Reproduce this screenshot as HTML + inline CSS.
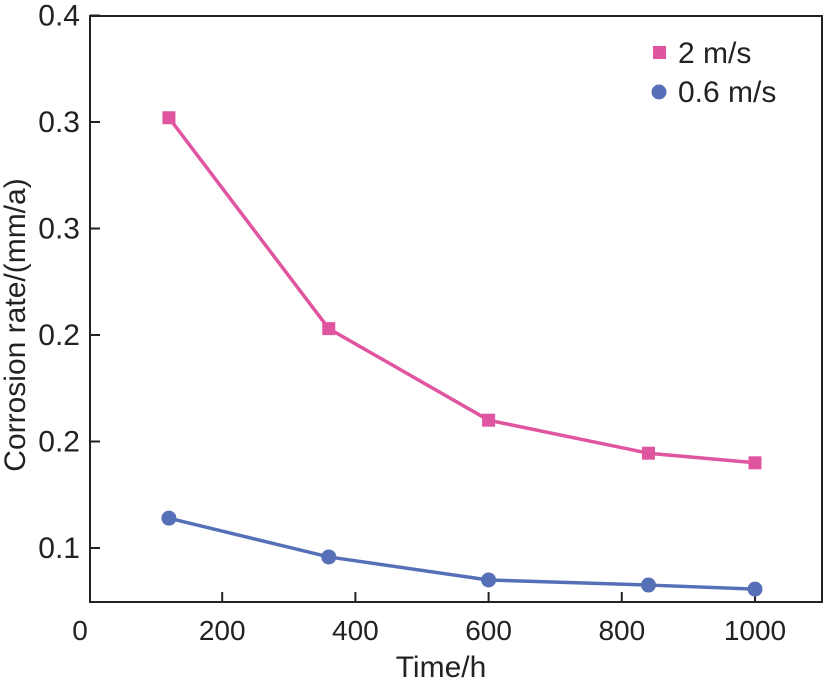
<!DOCTYPE html><html><head><meta charset="utf-8"><style>body{margin:0;background:#fff}svg{font-family:"Liberation Sans",sans-serif}</style></head><body>
<svg id="c" width="828" height="682"></svg>
<script>
const xTicks=[200,400,600,800,1000];
const yTicks=[0.1,0.15,0.2,0.25,0.3,0.35];
const yTickLabels=["0.1","0.2","0.2","0.3","0.3","0.4"];
const times=[120,360,600,840,1000];
const fast=[0.302,0.203,0.160,0.1445,0.140];
const slow=[0.114,0.0958,0.085,0.0826,0.0807];
const L=90,R=822,T=16,B=602;
const X=v=>89+v*0.666;
const Y=v=>548-(v-0.1)*2130;
const s=document.getElementById('c'),NS='http://www.w3.org/2000/svg';
function mk(t,a,p){const e=document.createElementNS(NS,t);for(const k in a)e.setAttribute(k,a[k]);(p||s).appendChild(e);return e;}
let e=mk('rect',{x:L,y:T,width:R-L,height:B-T,fill:'none',stroke:'#222','stroke-width':2});

let t=mk('text',{x:80,y:640,'font-size':28,'text-anchor':'middle',fill:'#222'});t.textContent='0';

xTicks.forEach(v=>{mk('line',{x1:X(v),x2:X(v),y1:B,y2:B-10,stroke:'#222','stroke-width':2});
let t=mk('text',{x:X(v),y:640,'font-size':28,'text-anchor':'middle',fill:'#222'});t.textContent=v;
});
yTicks.forEach((v,i)=>{mk('line',{x1:L,x2:L+10,y1:Y(v),y2:Y(v),stroke:'#222','stroke-width':2});
let t=mk('text',{x:80,y:Y(v)+10,'font-size':30,'text-anchor':'end',fill:'#222'});t.textContent=yTickLabels[i];
});
t=mk('text',{x:441,y:677,'font-size':30,'text-anchor':'middle',fill:'#222'});t.textContent='Time/h';

t=mk('text',{x:0,y:0,'font-size':30,'text-anchor':'middle',fill:'#222',transform:'translate(25,325) rotate(-90)'});t.textContent='Corrosion rate/(mm/a)';

function series(vals,col,sq,name){
 let p=mk('polyline',{points:times.map((x,i)=>X(x)+','+Y(vals[i])).join(' '),fill:'none',stroke:col,'stroke-width':3.5});
 
 times.forEach((x,i)=>{let m=sq?mk('rect',{x:X(x)-6.5,y:Y(vals[i])-6.5,width:13,height:13,fill:col}):mk('circle',{cx:X(x),cy:Y(vals[i]),r:7.5,fill:col});
 });
}
series(fast,'#e0559f',true,'series-2ms');
series(slow,'#5670b8',false,'series-06ms');
e=mk('rect',{x:653,y:46,width:13,height:13,fill:'#e0559f'});
t=mk('text',{x:678,y:63,'font-size':30,fill:'#222'});t.textContent='2 m/s';
e=mk('circle',{cx:659,cy:92,r:7.5,fill:'#5670b8'});
t=mk('text',{x:678,y:102,'font-size':30,fill:'#222'});t.textContent='0.6 m/s';
</script></body></html>
